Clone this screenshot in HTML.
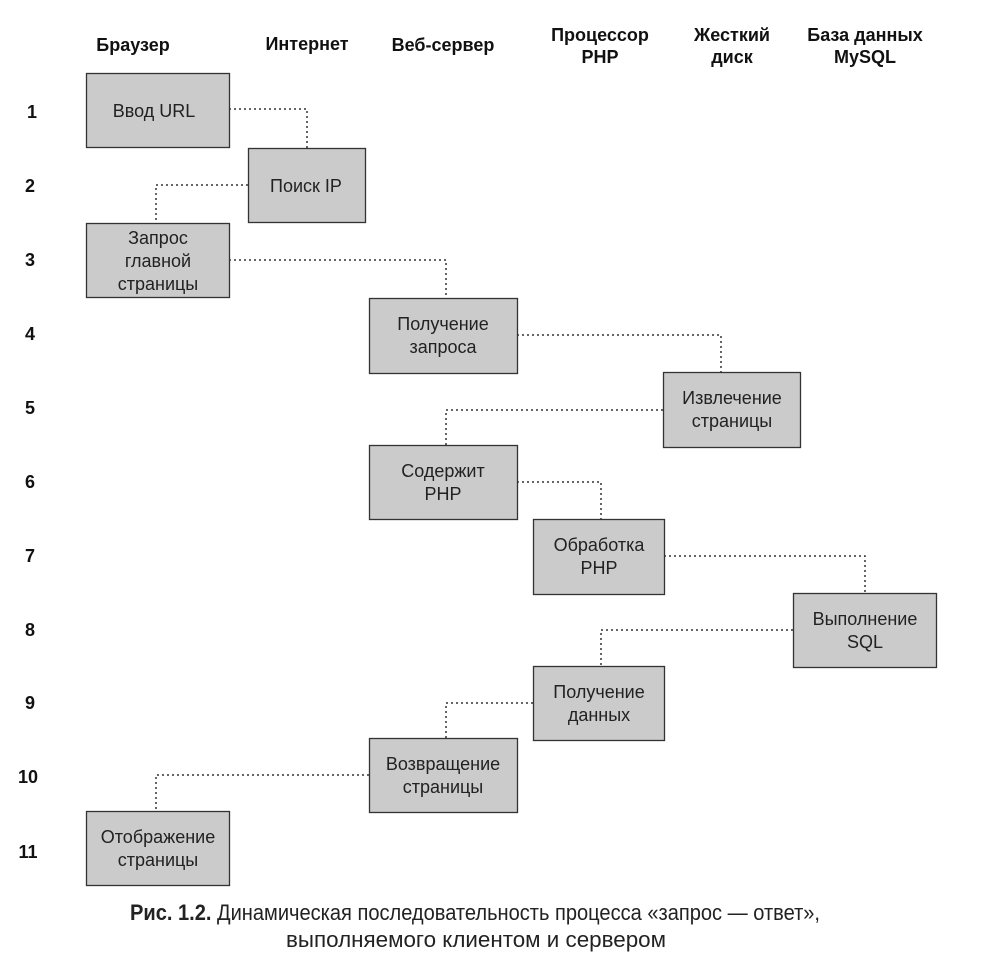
<!DOCTYPE html>
<html><head><meta charset="utf-8"><style>
html,body{margin:0;padding:0;background:#fff;}
svg{display:block}
.h{font-family:"Liberation Sans",sans-serif;font-weight:bold;font-size:18px;fill:#111;text-anchor:middle}
.n{font-family:"Liberation Sans",sans-serif;font-weight:bold;font-size:18px;fill:#111;text-anchor:middle}
.t{font-family:"Liberation Sans",sans-serif;font-size:18px;fill:#222;text-anchor:middle}
.b{fill:#cbcbcb;stroke:#333;stroke-width:1.3}
.c{fill:none;stroke:#333;stroke-width:1.5;stroke-dasharray:2 3}
.cap{font-family:"Liberation Sans",sans-serif;font-size:22px;fill:#222}
</style></head><body>
<svg width="998" height="971" viewBox="0 0 998 971">
<text class="h" x="133" y="51">Браузер</text>
<text class="h" x="307" y="50">Интернет</text>
<text class="h" x="443" y="51">Веб-сервер</text>
<text class="h" x="600" y="41">Процессор</text>
<text class="h" x="600" y="63">PHP</text>
<text class="h" x="732" y="41">Жесткий</text>
<text class="h" x="732" y="63">диск</text>
<text class="h" x="865" y="41">База данных</text>
<text class="h" x="865" y="63">MySQL</text>

<g class="n">
<text x="32" y="118">1</text><text x="30" y="192">2</text><text x="30" y="266">3</text>
<text x="30" y="340">4</text><text x="30" y="414">5</text><text x="30" y="488">6</text>
<text x="30" y="562">7</text><text x="30" y="636">8</text><text x="30" y="709">9</text>
<text x="28" y="783">10</text><text x="28" y="858">11</text>
</g>

<path class="c" d="M229 109H307V148"/>
<path class="c" d="M248 185H156V223"/>
<path class="c" d="M229 260H446V298"/>
<path class="c" d="M517 335H721V372"/>
<path class="c" d="M663 410H446V445"/>
<path class="c" d="M517 482H601V519"/>
<path class="c" d="M664 556H865V593"/>
<path class="c" d="M793 630H601V666"/>
<path class="c" d="M533 703H446V738"/>
<path class="c" d="M369 775H156V811"/>

<rect class="b" x="86.5" y="73.5" width="143" height="74"/>
<rect class="b" x="248.5" y="148.5" width="117" height="74"/>
<rect class="b" x="86.5" y="223.5" width="143" height="74"/>
<rect class="b" x="369.5" y="298.5" width="148" height="75"/>
<rect class="b" x="663.5" y="372.5" width="137" height="75"/>
<rect class="b" x="369.5" y="445.5" width="148" height="74"/>
<rect class="b" x="533.5" y="519.5" width="131" height="75"/>
<rect class="b" x="793.5" y="593.5" width="143" height="74"/>
<rect class="b" x="533.5" y="666.5" width="131" height="74"/>
<rect class="b" x="369.5" y="738.5" width="148" height="74"/>
<rect class="b" x="86.5" y="811.5" width="143" height="74"/>

<text class="t" x="154" y="117">Ввод URL</text>
<text class="t" x="306" y="192">Поиск IP</text>
<text class="t" x="158" y="244">Запрос</text>
<text class="t" x="158" y="267">главной</text>
<text class="t" x="158" y="290">страницы</text>
<text class="t" x="443" y="330">Получение</text>
<text class="t" x="443" y="353">запроса</text>
<text class="t" x="732" y="404">Извлечение</text>
<text class="t" x="732" y="427">страницы</text>
<text class="t" x="443" y="477">Содержит</text>
<text class="t" x="443" y="500">PHP</text>
<text class="t" x="599" y="551">Обработка</text>
<text class="t" x="599" y="574">PHP</text>
<text class="t" x="865" y="625">Выполнение</text>
<text class="t" x="865" y="648">SQL</text>
<text class="t" x="599" y="698">Получение</text>
<text class="t" x="599" y="721">данных</text>
<text class="t" x="443" y="770">Возвращение</text>
<text class="t" x="443" y="793">страницы</text>
<text class="t" x="158" y="843">Отображение</text>
<text class="t" x="158" y="866">страницы</text>

<text class="cap" x="130" y="920" textLength="690" lengthAdjust="spacingAndGlyphs"><tspan font-weight="bold">Рис. 1.2.</tspan> Динамическая последовательность процесса «запрос — ответ»,</text>
<text class="cap" x="286" y="947" textLength="380" lengthAdjust="spacingAndGlyphs">выполняемого клиентом и сервером</text>
</svg>
</body></html>
